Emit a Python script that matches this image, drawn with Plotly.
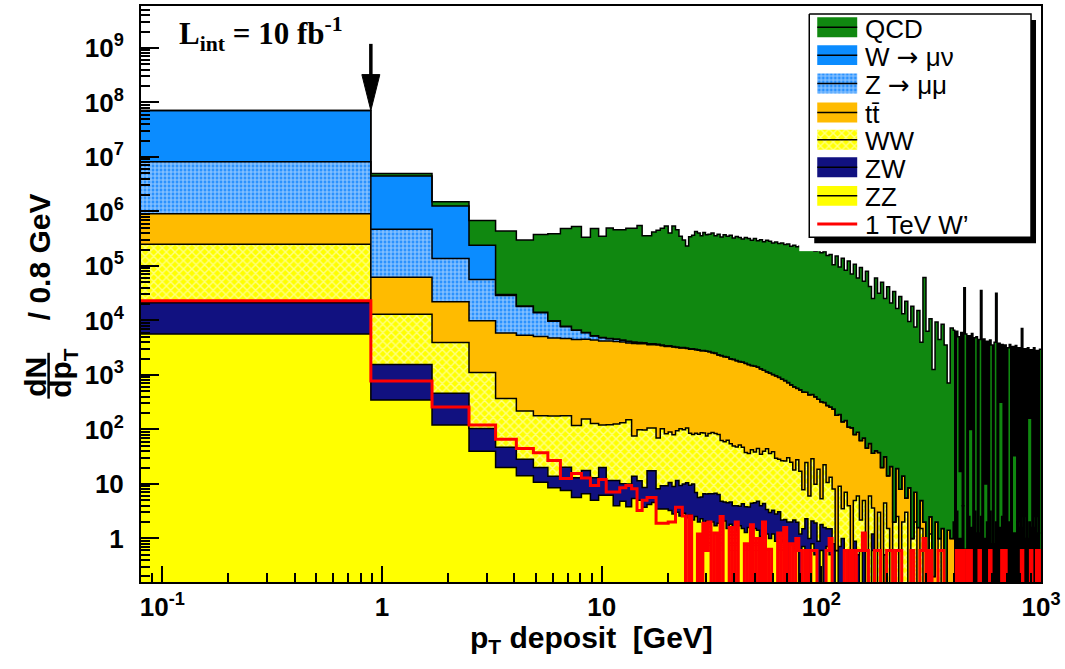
import numpy as np
import plotly.graph_objects as go

# ------------------------------------------------------------------ DATA
# Bin contents as log10(entries per 0.8 GeV); None = empty bin.
# *_LO : native 0.8 GeV bins, first visible bin .. 30.5 GeV (38 bins)
# *_A  : 81 merged bins, 30.5 .. ~400 GeV
# *_B  : 58 merged bins, ~400 .. 1000 GeV
ARROW = "<span style='font-family:DejaVu Sans'>\u2192</span>"
SERIES_NAMES = ["QCD", f"W {ARROW} \u03bc\u03bd", f"Z {ARROW} \u03bc\u03bc", "tt\u0304", "WW", "ZW", "ZZ", "1 TeV W\u2019"]

QCD_LO = [None, 5.72, 5.38, 5.65, 5.61, 5.45, 5.56, 5.58, 5.68, 5.72, 5.52, 5.68, 5.54, 5.69, 5.66, 5.66, 5.69, 5.69, 5.74,
          5.55, 5.55, 5.62, 5.65, 5.69, 5.73, 5.60, 5.73, 5.66, 5.54, 5.47, 5.36, 5.53, 5.56, 5.63, 5.60, 5.55, 5.61, 5.57]
QCD_A = [5.58, 5.60, 5.55, 5.58, 5.53, 5.57, 5.54, 5.56, 5.51, 5.54,
         5.52, 5.49, 5.52, 5.50, 5.47, 5.50, 5.46, 5.48, 5.44, 5.47,
         5.45, 5.42, 5.44, 5.41, 5.42, 5.39, 5.40, 5.36, 5.38, 5.35,
         5.36, 5.32, 5.34, 5.30, 5.32, 5.27, 5.31, 5.24, 5.26, 5.19,
         5.21, 5.02, 5.18, 4.98, 5.14, 4.92, 5.09, 4.85, 5.03, 4.78,
         4.97, 4.72, 4.90, 4.62, 4.40, 4.78, 4.50, 4.70, 4.40, 4.62,
         4.32, 4.53, 4.22, 4.44, 4.12, 4.35, 3.98, 4.26, 3.88, 4.18,
         3.60, 4.79, 3.80, 4.03, 3.10, 3.97, 3.65, 3.93, 3.55, 2.85,
         3.86]
QCD_B = [3.82, None, 3.80, 3.70, 1.2, 3.78, None, 4.60, 3.75, None,
         3.72, 2.0, 3.76, None, 3.68, 3.70, None, 3.65, 4.55, None,
         3.66, 1.0, 3.62, None, 3.64, 3.55, None, 3.60, 4.50, None,
         3.58, 2.5, 3.56, None, 3.55, None, 3.50, 3.56, None, 3.52,
         1.5, 3.54, None, 3.50, None, 3.85, None, 3.48, None, 3.50,
         2.2, 3.46, None, 3.50, None, 3.45, None, 3.47]

W_LO = [7.80, 6.60, 6.05, 5.26, 3.0, 2.70, 2.48, 2.30, 2.08, 2.0, 1.90, 1.85, 1.78, 1.70, 1.65, 1.60, 1.54, 1.48, 1.48,
        1.40, 1.40, 1.30, 1.30, 1.30, 1.18, 1.18, 1.18, 1.08, 1.08, 1.08, 1.0, 1.0, 1.0, 1.0, 0.90, 0.90, 0.90, 0.90]
W_A = [0.78, 0.70, 0.70, 0.60, 0.60, 0.48, 0.48, 0.48, 0.30, 0.30, 0.30]

Z_LO = [6.86, 5.61, 5.06, 4.67, 4.36, 4.10, 3.94, 3.69, 3.48, 3.32, 3.15, 2.90, 2.78, 2.60, 2.60, 2.48, 2.40, 2.30, 2.26,
        2.18, 2.18, 2.08, 2.04, 2.0, 1.95, 1.90, 1.90, 1.85, 1.78, 1.78, 1.70, 1.70, 1.65, 1.60, 1.60, 1.54, 1.48, 1.48]
Z_A = [1.45, 1.41, 1.40, 1.38, 1.34, 1.30, 1.28, 1.26, 1.20, 1.18, 1.15, 1.08, 1.04, 1.0, 0.95, 0.90,
       0.85, 0.85, 0.78, 0.78, 0.70, 0.70, 0.70, 0.60, 0.60, 0.60, 0.48, 0.48, 0.48, 0.30, 0.30]

TT_LO = [5.82, 4.69, 4.26, 3.94, 3.74, 3.71, 3.69, 3.66, 3.65, 3.64, 3.64, 3.63, 3.61, 3.61, 3.60, 3.59, 3.57, 3.57, 3.56,
         3.56, 3.54, 3.54, 3.54, 3.52, 3.51, 3.51, 3.50, 3.49, 3.48, 3.48, 3.47, 3.46, 3.46, 3.45, 3.44, 3.43, 3.43, 3.42]
TT_A = [3.41, 3.39, 3.38, 3.35, 3.34, 3.32, 3.31, 3.28, 3.27, 3.25, 3.23, 3.22, 3.20, 3.18,
        3.16, 3.15, 3.13, 3.10, 3.07, 3.04, 3.02, 2.99, 2.97, 2.94, 2.91, 2.88, 2.84, 2.80, 2.77, 2.73,
        2.71, 2.68, 2.66, 2.63, 2.61, 2.59, 2.53, 2.50, 2.46, 2.42, 2.39,
        2.36, 2.26, 2.25, 2.13, 2.14, 2.03, 2.03, 1.88, 1.92, 1.78, 1.81, 1.66, 1.69, 1.52, 1.61,
        1.54, 1.30, 1.43, 1.10, 1.32, None, 1.22, 0.90, 1.08, 0.40, 0.93, None, 0.70, 0.20, 0.54,
        0.30, None, 0.11, -0.70, 0.30, None, 0.18, None, 0.15, 0.0]
TT_B = [0.3, None, 0.5, None, 0.0, None, 0.6, None, -0.2, None,
        0.4, None, 0.2, None, 0.5, None, 0.1, None, 0.4, None,
        0.0, None, 0.3, None, 0.5, None, -0.1, None, 0.3, None,
        0.2, None, 0.4, None, 0.0, None, 0.3, None, 0.5, None,
        0.1, None, 0.3, None, 0.2, None, 0.4, None, 0.0, None,
        0.3, None, 0.2, None, 0.4, None, 0.1, None]

WW_LO = [5.36, 4.06, 3.54, 3.00, 2.51, 2.28, 2.20, 2.21, 2.20, 2.02, 2.14, 2.06, 2.00, 2.04, 2.06, 2.09, 2.15, 1.79, 1.94,
         1.95, 1.95, 1.95, 1.79, 1.97, 1.87, 1.90, 1.85, 1.92, 1.97, 1.95, 1.98, 1.88, 1.85, 1.89, 1.88, 1.91, 1.90, 1.84]
WW_A = [1.89, 1.91, 1.89, 1.87, 1.76, 1.74, 1.77, 1.70,
        1.66, 1.64, 1.68, 1.63, 1.53, 1.51,
        1.58, 1.53, 1.60, 1.49, 1.55, 1.61, 1.52, 1.55, 1.43, 1.40,
        1.39, 1.38, 1.45, 1.36, 1.20, 1.41,
        1.20, 0.80, 1.35, 0.70, 1.43, 0.90, 1.25, 0.55, 1.32, 0.96, 1.07,
        0.86, None, 0.92, 0.40, 0.81, 0.53, None, 0.61, 0.74, 0.20, 0.63, None, 0.78, 0.38, None,
        0.48, None, 0.60, 0.18, None, 0.30, 0.40, None, 0.30, 0.48, None, 0.0, 0.30, None, 0.18, None,
        None, 0.08, None, None, 0.0]

ZW_LO = [4.19, 3.08, 2.53, 1.81, 1.43, 1.15, 0.97, 0.72, 1.10, 0.87, 1.04, 0.90, 1.14, 0.73, 0.88, 0.72, 0.79, 0.93, 0.81,
         0.69, 1.12, 1.11, 0.67, 0.76, 0.76, 0.87, 0.79, 0.93, 0.83, 0.85, 0.91, 0.83, 0.89, 0.65, 0.56, 0.54, 0.67, 0.65]
ZW_A = [0.68, 0.66, 0.70, 0.65, 0.51, 0.41, 0.48, 0.45, 0.38, 0.41, 0.34, 0.45, 0.40, 0.34,
        0.51, 0.48, 0.53, 0.46, 0.49, 0.34, 0.30, 0.32, 0.28, 0.30, 0.11, 0.18, 0.30, 0.08, 0.20, 0.04,
        0.08, -0.10, 0.23, 0.0, 0.11, 0.15, -0.05, 0.08, 0.20, -0.10, 0.0,
        -0.10, None, -0.15, 0.0, None, -0.22, None, -0.05, -0.30, None, -0.15, None, None, -0.22, None]

ZZ_LO = [3.75, 2.54, 2.08, 1.60, 1.30, 1.15, 1.03, 0.93, 0.88, 0.75, 0.82, 0.70, 0.79, 0.79, 0.60, 0.68, 0.58, 0.73, 0.70,
         0.57, 0.62, 0.66, 0.54, 0.54, 0.54, 0.51, 0.45, 0.48, 0.41, 0.46, 0.38, 0.43, 0.34, 0.40, 0.30, 0.36, 0.28, 0.32]
ZZ_A = [0.26, 0.30, 0.23, 0.28, 0.20, 0.32, 0.18, 0.26,
        0.20, 0.15, 0.23, 0.18, 0.11, 0.20, 0.08, 0.18, 0.15, 0.04, 0.11, 0.08, 0.0, 0.08, -0.05, 0.04,
        -0.05, -0.15, None, -0.10, -0.22, -0.05, None, -0.15, -0.22, None, -0.10, -0.30, None, -0.22, None, -0.15, -0.30,
        None, -0.22, None, None, -0.22, None, -0.30, None, None, -0.22, None, None, None, -0.22, None, None, None, -0.30]

WP_LO = [4.36, 2.89, 2.41, 2.08, 1.82, 1.65, 1.57, 1.43, 1.10, 1.19, 1.11, 0.97, 1.08, 0.85, 0.85, 0.93, 0.97, 0.91, 0.51,
         0.70, 0.75, 0.75, 0.28, 0.28, 0.28, 0.30, 0.30, 0.57, 0.57, 0.41, None, 0.41, None, None, 0.08, None, 0.28, -0.22]
WP_A = [0.3, None, 0.1, None, 0.4, None, None, 0.2, None, 0.3, None, None, -0.1, None, 0.25, None, 0.0, None, 0.3, None,
        -0.2, None, None, 0.1, None, 0.2, None, -0.1, None, 0.0,
        -0.22, None, -0.22, None, -0.22, -0.22, None, None, None, -0.22, 0.0, None, None, None, None, -0.22, None, -0.22,
        None, -0.22, -0.22, 0.1, -0.22, None, None, -0.22, -0.22, None, None, -0.22, -0.22, None, -0.22, -0.22, None,
        None, None, -0.22, None, None, -0.22, 0.0, None, -0.22, None, None, -0.22, -0.22, None, None, None]
WP_B = [None, None, -0.22, None, -0.22, None, -0.22, None, None, -0.22,
        None, -0.22, None, None, None, None, None, -0.22, None, None,
        None, None, None, None, -0.22, None, None, None, None, None,
        None, None, -0.22, None, -0.22, None, None, None, None, None,
        None, None, None, None, None, -0.22, None, None, None, None,
        None, -0.22, None, None, None, -0.22, None, -0.22]

# ------------------------------------------------------------------ binning
N_LO, N_A, N_B = 38, 81, 58
lo_edges = [0.07] + [round(0.09 + 0.8 * k, 2) for k in range(1, N_LO + 1)]   # .. 30.49 GeV
P_END = 1000.09
a_end = lo_edges[-1] * (P_END / lo_edges[-1]) ** (81.0 / 110.0)
a_edges = list(np.geomspace(lo_edges[-1], a_end, N_A + 1)[1:])
b_edges = list(np.geomspace(a_end, P_END, N_B + 1)[1:])
edges = lo_edges + a_edges + b_edges
NB = len(edges) - 1


def series(lo, a=(), b=()):
    assert len(lo) == N_LO and len(a) <= N_A and len(b) <= N_B
    vals = list(lo) + list(a) + [None] * (N_A - len(a)) + list(b) + [None] * (N_B - len(b))
    return np.array([0.0 if v is None else 10.0 ** v for v in vals])


QCD = series(QCD_LO, QCD_A, QCD_B)
WMU = series(W_LO, W_A)
ZMM = series(Z_LO, Z_A)
TTB = series(TT_LO, TT_A, TT_B)
WW = series(WW_LO, WW_A)
ZW = series(ZW_LO, ZW_A)
ZZ = series(ZZ_LO, ZZ_A)
WP = series(WP_LO, WP_A, WP_B)

# ------------------------------------------------------------------ layout geometry
FIG_W, FIG_H = 1065, 669
ML, MR, MT, MB = 141, 23, 4, 87
PW, PH = FIG_W - ML - MR, FIG_H - MT - MB
X_RANGE = [np.log10(0.08), 3.0]
Y_RANGE = [-0.80, 9.77]
FONT = "Liberation Sans, Arial, Helvetica, sans-serif"


def fx(px):
    return (px - ML) / PW


def fy(py):
    return (FIG_H - MB - py) / PH


def data_px(x):
    return ML + (np.log10(x) - X_RANGE[0]) / (X_RANGE[1] - X_RANGE[0]) * PW


def data_py(y):
    return MT + (Y_RANGE[1] - np.log10(y)) / (Y_RANGE[1] - Y_RANGE[0]) * PH


GREEN, BLUE, ZBLUE, ORANGE, YELLOW, NAVY, RED = "#108810", "#0b8cff", "#2a92ff", "#ffbb00", "#ffff00", "#111180", "#ff0000"
PAT_Z = dict(shape="+", bgcolor=ZBLUE, fgcolor="white", size=4, solidity=0.5)
PAT_WW = dict(shape="x", bgcolor=YELLOW, fgcolor="white", size=6, solidity=0.42)

fig = go.Figure()
FLOOR = 0.05
x_step = edges[:-1] + [edges[-1]]


def step_y(v):
    v = np.maximum(v, FLOOR)
    return list(v) + [v[-1]]


fig.add_trace(go.Scatter(x=x_step, y=step_y(np.zeros(NB)), mode="lines",
                         line=dict(width=0, shape="hv"), hoverinfo="skip", showlegend=False))

stack = [
    (SERIES_NAMES[6], ZZ, YELLOW, None),
    (SERIES_NAMES[5], ZW, NAVY, None),
    (SERIES_NAMES[4], WW, YELLOW, PAT_WW),
    (SERIES_NAMES[3], TTB, ORANGE, None),
    (SERIES_NAMES[2], ZMM, ZBLUE, PAT_Z),
    (SERIES_NAMES[1], WMU, BLUE, None),
    (SERIES_NAMES[0], QCD, GREEN, None),
]
cum = np.zeros(NB)
for name, vals, color, pat in stack:
    cum = cum + vals
    kw = dict(fillpattern=pat) if pat else {}
    fig.add_trace(go.Scatter(x=x_step, y=step_y(cum), name=name, mode="lines",
                             line=dict(color="black", width=1.5, shape="hv", simplify=False),
                             fill="tonexty", fillcolor=color,
                             hoverinfo="skip", showlegend=False, **kw))
total = cum

fig.add_trace(go.Scatter(x=x_step, y=step_y(WP), name=SERIES_NAMES[7], mode="lines",
                         line=dict(color=RED, width=3, shape="hv", simplify=False),
                         hoverinfo="skip", showlegend=False))

# ------------------------------------------------------------------ legend (drawn in a pixel-unit subplot)
LX0, LX1, LY0, LY1 = 800, FIG_W - MR, 250, MT


def rect(x0, y0, x1, y1):
    return [x0, x1, x1, x0, x0], [y0, y0, y1, y1, y0]


def leg_poly(xs, ys, **kw):
    fig.add_trace(go.Scatter(x=xs, y=ys, xaxis="x2", yaxis="y2", mode="lines", hoverinfo="skip",
                             showlegend=False, **kw))


leg_poly(*rect(815, 18, 1037, 242), fill="toself", fillcolor="black", line=dict(width=0))
leg_poly(*rect(810, 12, 1032, 236), fill="toself", fillcolor="white", line=dict(color="black", width=1.5))

legend_entries = [
    (SERIES_NAMES[0], GREEN, None, 25.3),
    (SERIES_NAMES[1], BLUE, None, 53.3),
    (SERIES_NAMES[2], ZBLUE, PAT_Z, 81.7),
    (SERIES_NAMES[3], ORANGE, None, 110.8),
    (SERIES_NAMES[4], YELLOW, PAT_WW, 138.3),
    (SERIES_NAMES[5], NAVY, None, 165.8),
    (SERIES_NAMES[6], YELLOW, None, 194.5),
]
SW0, SW1 = 818, 858
for name, color, pat, yc in legend_entries:
    kw = dict(fillpattern=pat) if pat else {}
    leg_poly(*rect(SW0, yc - 10, SW1, yc + 10), fill="toself", fillcolor=color, line=dict(width=0), **kw)
    leg_poly([SW0, SW1], [yc, yc], line=dict(color="black", width=1.5))
WP_Y = 222.7
leg_poly([SW0, SW1], [WP_Y, WP_Y], line=dict(color=RED, width=3))

annotations = []
for name, _, _, yc in legend_entries + [(SERIES_NAMES[7], None, None, WP_Y)]:
    annotations.append(dict(x=864, y=yc + 1.5, xref="x2", yref="y2", text=name, showarrow=False,
                            xanchor="left", yanchor="middle", font=dict(family=FONT, size=26, color="black")))

# luminosity label
annotations.append(dict(x=fx(177), y=fy(32), xref="paper", yref="paper", xanchor="left", yanchor="middle",
                        text="<b>L<sub>int</sub> = 10 fb<sup>-1</sup></b>", showarrow=False,
                        font=dict(family="Liberation Serif, Times New Roman, serif", size=31, color="black")))

# axis titles
annotations.append(dict(x=0.5, y=fy(640), xref="paper", yref="paper", xanchor="center", yanchor="middle",
                        text="<b>p<sub>T</sub> deposit\u00a0 [GeV]</b>", showarrow=False,
                        font=dict(family=FONT, size=30, color="black")))
annotations.append(dict(x=fx(36), y=fy(376), xref="paper", yref="paper", xanchor="center", yanchor="middle",
                        text="<b>dN</b>", textangle=-90, showarrow=False,
                        font=dict(family=FONT, size=30, color="black")))
annotations.append(dict(x=fx(63), y=fy(372), xref="paper", yref="paper", xanchor="center", yanchor="middle",
                        text="<b>dp<sub>T</sub></b>", textangle=-90, showarrow=False,
                        font=dict(family=FONT, size=30, color="black")))
annotations.append(dict(x=fx(39), y=fy(256), xref="paper", yref="paper", xanchor="center", yanchor="middle",
                        text="<b>/ 0.8 GeV</b>", textangle=-90, showarrow=False,
                        font=dict(family=FONT, size=30, color="black")))

# arrow pointing at the first-bin edge
ax_px = data_px(edges[1])
tip_py = data_py(total[0])
head_len, head_half = 36, 9
shapes = [
    dict(type="line", xref="paper", yref="paper", x0=fx(48.5), x1=fx(48.5), y0=fy(352), y1=fy(398),
         line=dict(color="black", width=2.5)),
    dict(type="line", xref="paper", yref="paper", x0=fx(ax_px), x1=fx(ax_px), y0=fy(42),
         y1=fy(tip_py - head_len + 2), line=dict(color="black", width=3.5)),
    dict(type="path", xref="paper", yref="paper",
         path=f"M {fx(ax_px - head_half)},{fy(tip_py - head_len)} L {fx(ax_px + head_half)},{fy(tip_py - head_len)} "
              f"L {fx(ax_px)},{fy(tip_py)} Z",
         fillcolor="black", line=dict(color="black", width=1)),
]

# ------------------------------------------------------------------ axes
x_minor = [m * 10.0 ** d for d in range(-2, 3) for m in range(2, 10) if 0.08 <= m * 10.0 ** d <= 1000]
y_minor = [m * 10.0 ** d for d in range(-1, 10) for m in range(2, 10) if 0.16 <= m * 10.0 ** d <= 5.8e9]
tickfont = dict(family=FONT, size=26, color="black", weight="bold")

fig.update_layout(
    width=FIG_W, height=FIG_H,
    margin=dict(l=ML, r=MR, t=MT, b=MB, pad=0),
    paper_bgcolor="white", plot_bgcolor="white",
    showlegend=False,
    xaxis=dict(type="log", range=X_RANGE, showline=True, mirror=True, linecolor="black", linewidth=2,
               ticks="inside", ticklen=16, tickwidth=1.5, tickcolor="black",
               tickvals=[0.1, 1, 10, 100, 1000],
               ticktext=["10<sup>-1</sup>", "1", "10", "10<sup>2</sup>", "10<sup>3</sup>"],
               minor=dict(ticks="inside", ticklen=9, tickwidth=1.5, tickcolor="black", tickvals=x_minor),
               showgrid=False, zeroline=False, tickfont=tickfont, ticklabelstandoff=1, fixedrange=True),
    yaxis=dict(type="log", range=Y_RANGE, showline=True, mirror=True, linecolor="black", linewidth=2,
               ticks="inside", ticklen=18, tickwidth=1.5, tickcolor="black",
               tickvals=[10.0 ** k for k in range(0, 10)],
               ticktext=["1", "10"] + [f"10<sup>{k}</sup>" for k in range(2, 10)],
               minor=dict(ticks="inside", ticklen=9, tickwidth=1.5, tickcolor="black", tickvals=y_minor),
               showgrid=False, zeroline=False, tickfont=tickfont, ticklabelstandoff=10, fixedrange=True),
    xaxis2=dict(domain=[fx(LX0), 1.0], range=[LX0, LX1], visible=False, anchor="y2", fixedrange=True),
    yaxis2=dict(domain=[fy(LY0), 1.0], range=[LY0, LY1], visible=False, anchor="x2", fixedrange=True),
    annotations=annotations,
    shapes=shapes,
)

fig.write_html("out.html", post_script="document.body.style.margin='0';")
